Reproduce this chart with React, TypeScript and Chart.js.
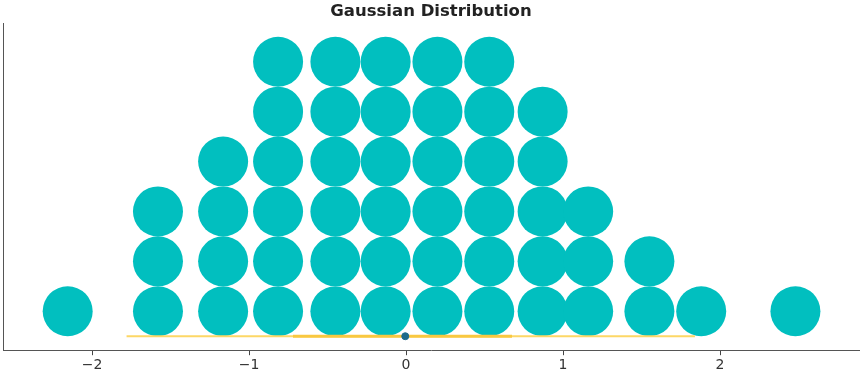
import React, { useEffect, useRef } from 'react';
import { Chart, registerables } from 'chart.js';
Chart.register(...registerables);

const binCenters = [-2.155, -1.58, -1.165, -0.815, -0.45, -0.13, 0.2, 0.53, 0.87, 1.16, 1.55, 1.88, 2.48];
const binCounts = [1, 3, 4, 6, 6, 6, 6, 6, 5, 3, 2, 1, 1];
const interval95 = [-1.78, 1.84];
const interval50 = [-0.72, 0.675];
const medianValue = -0.005;
const xTicks = [-2, -1, 0, 1, 2];

const FONT = "'DejaVu Sans', sans-serif";

export default function App() {
  const ref = useRef<HTMLCanvasElement | null>(null);
  useEffect(() => {
    document.body.style.margin = '0';
    const pts: { x: number; y: number }[] = [];
    binCenters.forEach((c, i) => {
      for (let k = 0; k < binCounts[i]; k++) pts.push({ x: c, y: k });
    });
    const lineY = -0.5;
    const chart = new Chart(ref.current!, {
      type: 'scatter',
      data: {
        datasets: [
          {
            data: [{ x: medianValue, y: lineY }],
            backgroundColor: '#1d6b8a',
            borderColor: '#1d6b8a',
            pointRadius: 3.5,
            order: 0,
          },
          {
            data: interval50.map((x) => ({ x, y: lineY })),
            showLine: true,
            borderColor: '#f9c840',
            borderWidth: 3,
            pointRadius: 0,
            order: 1,
          },
          {
            data: interval95.map((x) => ({ x, y: lineY })),
            showLine: true,
            borderColor: '#fdd766',
            borderWidth: 2,
            pointRadius: 0,
            order: 2,
          },
          {
            data: pts,
            backgroundColor: '#01bfbf',
            borderColor: '#01bfbf',
            borderWidth: 0,
            pointRadius: 25,
            order: 3,
          },
        ],
      },
      options: {
        responsive: false,
        animation: false,
        layout: { autoPadding: false, padding: { left: 3, right: 3, top: 0, bottom: 0 } },
        plugins: {
          legend: { display: false },
          tooltip: { enabled: false },
          title: {
            display: true,
            text: 'Gaussian Distribution',
            color: '#222',
            font: { family: FONT, size: 16.5, weight: 'bold' },
            padding: { top: 2, bottom: 2 },
          },
        },
        scales: {
          x: {
            type: 'linear',
            min: -2.567,
            max: 2.885,
            afterBuildTicks: (axis: any) => {
              axis.ticks = xTicks.map((v) => ({ value: v }));
            },
            afterFit: (axis: any) => {
              axis.height = axis.height - 1;
            },
            ticks: {
              color: '#333',
              font: { family: FONT, size: 14 },
              padding: 2,
              maxRotation: 0,
              callback: (v: any) => String(v).replace('-', '\u2212'),
            },
            grid: { drawOnChartArea: false, drawTicks: true, tickLength: 5, color: '#444' },
            border: { display: true, color: '#555', width: 1 },
          },
          y: {
            type: 'linear',
            min: -0.78,
            max: 5.76,
            afterFit: (axis: any) => {
              axis.width = 0;
            },
            ticks: { display: false },
            grid: { display: false },
            border: { display: true, color: '#555', width: 1 },
          },
        },
      },
    });
    return () => chart.destroy();
  }, []);
  return (
    <div style={{ width: 862, height: 375 }}>
      <canvas ref={ref} width={862} height={375} />
    </div>
  );
}
